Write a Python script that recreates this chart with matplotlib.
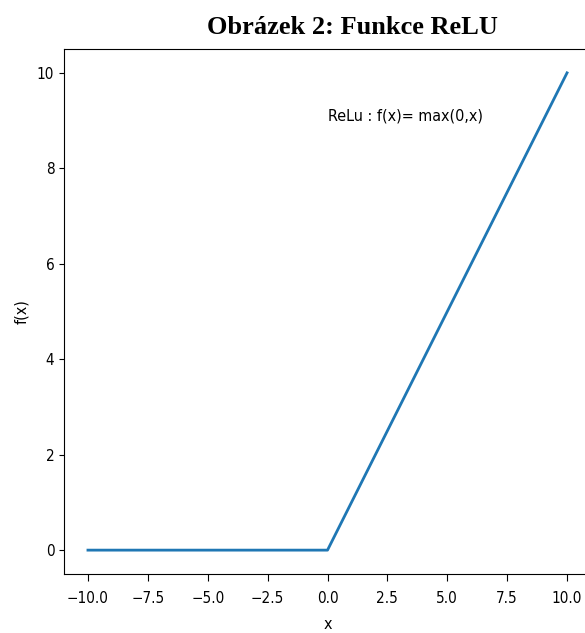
import matplotlib.pyplot as plt

# zlomove body funkce ReLU
x_vals = [-10, 0, 10]
y_vals = [0, 0, 10]

plt.rcParams['font.family'] = 'DejaVu Sans'
plt.rcParams['font.stretch'] = 'condensed'

fig = plt.figure(figsize=(5.85, 6.33), dpi=100)
# osa presahuje pravy okraj obrazku (prava hrana je oriznuta)
ax = fig.add_axes([64 / 585, 59 / 633, 527 / 585, 525 / 633])

ax.plot(x_vals, y_vals, color='#1f77b4', linewidth=2)
ax.set_xlim(-11, 11)
ax.set_ylim(-0.5, 10.5)
ax.set_xticks([-10, -7.5, -5, -2.5, 0, 2.5, 5, 7.5, 10])
ax.set_yticks([0, 2, 4, 6, 8, 10])
ax.tick_params(labelsize=11)
ax.tick_params(axis='x', length=4.8, pad=7.5)
ax.set_xlabel('x', fontsize=11.5, labelpad=7.6)
ax.set_ylabel('f(x)', fontsize=11.5, labelpad=5.5)
ax.text(0, 9, 'ReLu : f(x)= max(0,x)', fontsize=11.5)

fig.text(352 / 585, 1 - 34 / 633, 'Obrázek 2: Funkce ReLU', family='Liberation Serif',
         fontweight='bold', fontsize=19, ha='center', va='baseline', stretch='normal')

plt.savefig('out.png', dpi=100)
